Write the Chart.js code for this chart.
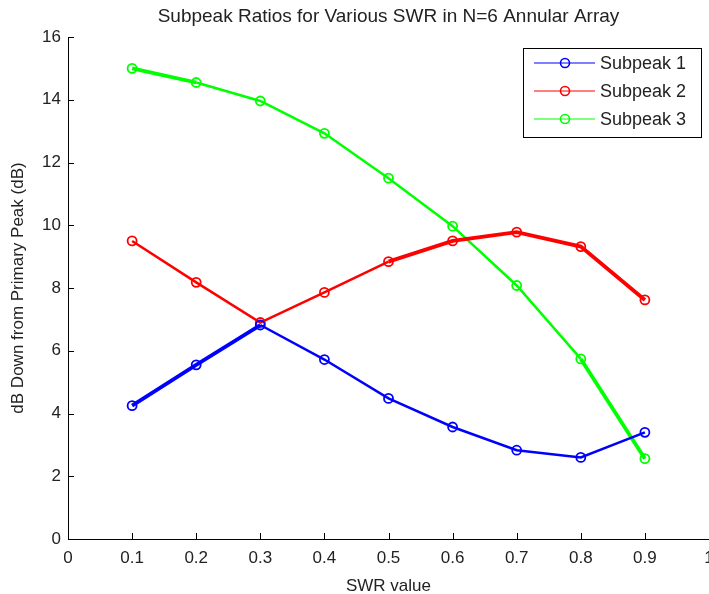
<!DOCTYPE html>
<html>
<head>
<meta charset="utf-8">
<script src="https://cdn.jsdelivr.net/npm/chart.js@4"></script>
<style>
  body { margin: 0; background: #fff; }
</style>
</head>
<body>
<canvas id="ratioChart" width="709" height="594"></canvas>
<script>
const swr = [0.1, 0.2, 0.3, 0.4, 0.5, 0.6, 0.7, 0.8, 0.9];
const subpeak1 = [4.25, 5.55, 6.82, 5.72, 4.48, 3.57, 2.83, 2.6, 3.4];
const subpeak2 = [9.5, 8.18, 6.9, 7.86, 8.84, 9.5, 9.78, 9.32, 7.62];
const subpeak3 = [15.0, 14.55, 13.96, 12.93, 11.5, 9.97, 8.08, 5.74, 2.56];
const seriesNames = ['Subpeak 1', 'Subpeak 2', 'Subpeak 3'];
const xTickLabels = ['0', '0.1', '0.2', '0.3', '0.4', '0.5', '0.6', '0.7', '0.8', '0.9', '1'];
const yTickLabels = ['0', '2', '4', '6', '8', '10', '12', '14', '16'];
const chartTitle = 'Subpeak Ratios for Various SWR in N=6 Annular Array';

const FONT = 'Arial, "Liberation Sans", Helvetica, sans-serif';

// segments drawn twice in the original plot come out heavier
function heavy(list) {
    return ctx => list.includes(ctx.p0DataIndex) ? 3.8 : 2.5;
}

function makeSet(label, values, color, heavySegs) {
    return {
        label: label,
        data: values.map((v, i) => ({ x: swr[i], y: v })),
        borderColor: color,
        backgroundColor: 'rgba(0,0,0,0)',
        borderWidth: 2.5,
        pointRadius: 4.5,
        pointBorderWidth: 1.8,
        pointBackgroundColor: 'rgba(0,0,0,0)',
        pointBorderColor: color,
        tension: 0,
        segment: { borderWidth: heavy(heavySegs) }
    };
}

// title centred over the plot area rather than the whole canvas
const areaTitle = {
    id: 'areaTitle',
    afterDraw(chart) {
        const ctx = chart.ctx;
        const area = chart.chartArea;
        ctx.save();
        ctx.font = '19px ' + FONT;
        ctx.fillStyle = '#222';
        ctx.textAlign = 'center';
        ctx.textBaseline = 'middle';
        ctx.fillText(chartTitle, (area.left + area.right) / 2, 17);
        ctx.restore();
    }
};

// inward tick marks on the two axes
const innerTicks = {
    id: 'innerTicks',
    afterDatasetsDraw(chart) {
        const ctx = chart.ctx;
        const x = chart.scales.x, y = chart.scales.y;
        const area = chart.chartArea;
        ctx.save();
        ctx.strokeStyle = '#000';
        ctx.lineWidth = 1;
        ctx.beginPath();
        x.ticks.forEach(t => {
            const px = Math.round(x.getPixelForValue(t.value)) + 0.5;
            ctx.moveTo(px, area.bottom);
            ctx.lineTo(px, area.bottom - 6);
        });
        y.ticks.forEach(t => {
            const py = Math.round(y.getPixelForValue(t.value)) + 0.5;
            ctx.moveTo(area.left, py);
            ctx.lineTo(area.left + 6, py);
        });
        ctx.stroke();
        ctx.restore();
    }
};

// boxed legend in the upper right corner
const boxLegend = {
    id: 'boxLegend',
    afterDraw(chart) {
        const ctx = chart.ctx;
        const left = 523, top = 48, w = 178, h = 89;
        ctx.save();
        ctx.fillStyle = '#fff';
        ctx.fillRect(left, top, w, h);
        ctx.strokeStyle = '#000';
        ctx.lineWidth = 1;
        ctx.strokeRect(left + 0.5, top + 0.5, w, h);
        ctx.font = '18px ' + FONT;
        ctx.textBaseline = 'middle';
        chart.data.datasets.forEach((ds, i) => {
            const cy = top + 15 + i * 28;
            ctx.strokeStyle = ds.borderColor;
            ctx.lineWidth = 1.2;
            ctx.beginPath();
            ctx.moveTo(534, cy);
            ctx.lineTo(595, cy);
            ctx.stroke();
            ctx.lineWidth = 1.6;
            ctx.beginPath();
            ctx.arc(565, cy, 4.5, 0, Math.PI * 2);
            ctx.stroke();
            ctx.fillStyle = '#222';
            ctx.fillText(ds.label, 600, cy + 1);
        });
        ctx.restore();
    }
};

const ctx = document.getElementById('ratioChart').getContext('2d');
const ratioChart = new Chart(ctx, {
    type: 'line',
    data: {
        datasets: [
            makeSet(seriesNames[0], subpeak1, '#0000ff', [0, 1]),
            makeSet(seriesNames[1], subpeak2, '#ff0000', [4, 5, 6, 7]),
            makeSet(seriesNames[2], subpeak3, '#00ff00', [0, 7])
        ]
    },
    options: {
        responsive: false,
        animation: false,
        layout: { autoPadding: false, padding: { top: 37, left: 0, right: 0, bottom: 0 } },
        plugins: {
            legend: { display: false },
            tooltip: { enabled: false },
            title: { display: false }
        },
        scales: {
            x: {
                type: 'linear',
                min: 0,
                max: 1,
                grid: { display: false, drawTicks: false },
                border: { display: true, color: '#000', width: 1 },
                ticks: {
                    stepSize: 0.1,
                    autoSkip: false,
                    maxRotation: 0,
                    padding: 9,
                    color: '#222',
                    font: { family: FONT, size: 17 },
                    callback: (v, i) => xTickLabels[i]
                },
                title: {
                    display: true,
                    text: 'SWR value',
                    color: '#222',
                    font: { family: FONT, size: 17, lineHeight: 1 },
                    padding: { top: 0, bottom: -0.5 }
                },
                afterFit(scale) {
                    scale.height = 55;
                    scale.paddingLeft = 0;
                    scale.paddingRight = 0;
                }
            },
            y: {
                min: 0,
                max: 16,
                grid: { display: false, drawTicks: false },
                border: { display: true, color: '#000', width: 1 },
                ticks: {
                    stepSize: 2,
                    padding: 7,
                    color: '#222',
                    font: { family: FONT, size: 17 },
                    callback: (v, i) => yTickLabels[i]
                },
                title: {
                    display: true,
                    text: 'dB Down from Primary Peak (dB)',
                    color: '#222',
                    font: { family: FONT, size: 17, lineHeight: 1 },
                    padding: { top: 10, bottom: 0 }
                },
                afterFit(scale) {
                    scale.width = 68;
                    scale.paddingTop = 0;
                    scale.paddingBottom = 0;
                }
            }
        }
    },
    plugins: [innerTicks, boxLegend, areaTitle]
});
</script>
</body>
</html>
